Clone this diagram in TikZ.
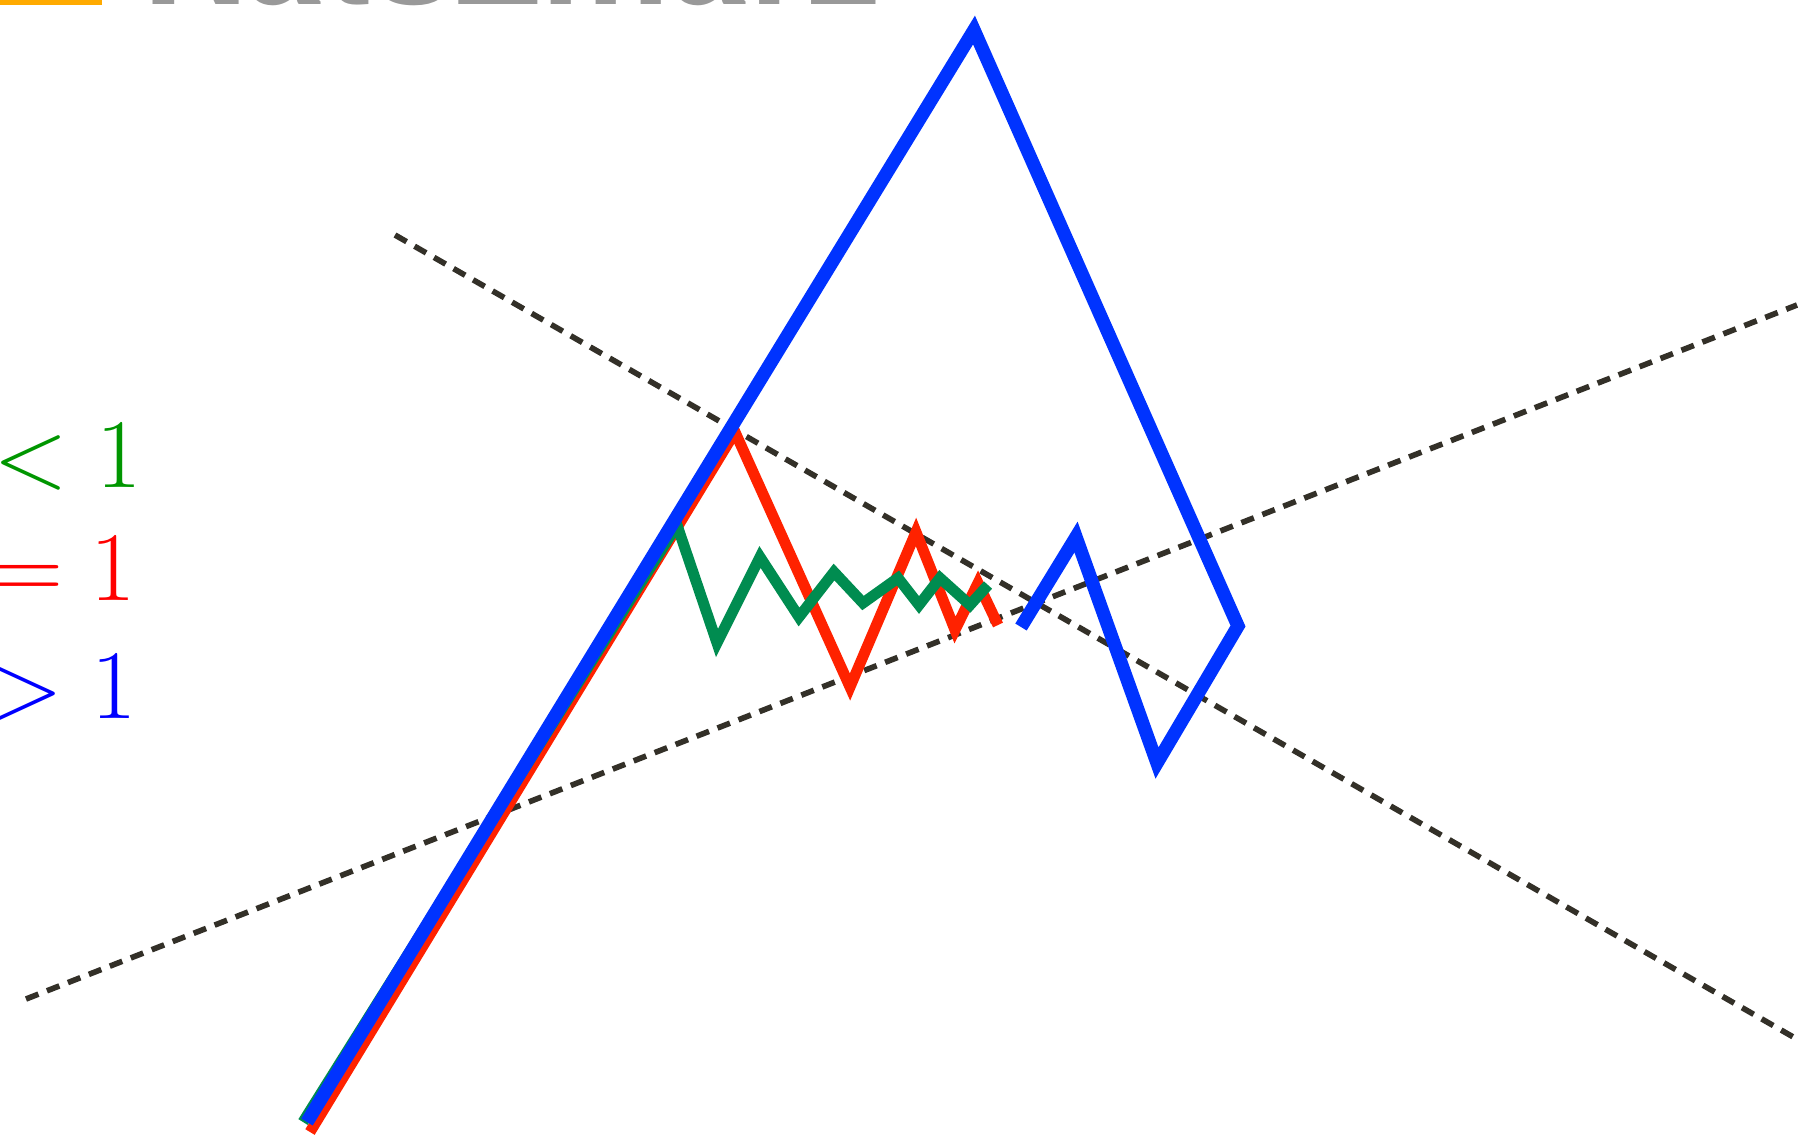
\documentclass[tikz,border=0pt]{standalone}
\usepackage{fix-cm}
\usepackage{fontspec}
\newfontfamily\headfont{TeX Gyre Heros}
\definecolor{wavegreen}{RGB}{0,140,80}
\definecolor{wavered}{RGB}{255,34,0}
\definecolor{waveblue}{RGB}{0,51,255}
\definecolor{boundgray}{RGB}{51,48,40}
\definecolor{legorange}{RGB}{255,170,0}
\definecolor{headgray}{RGB}{153,153,153}
\definecolor{labgreen}{RGB}{0,150,0}
\definecolor{labred}{RGB}{255,0,0}
\definecolor{labblue}{RGB}{0,0,255}
\tikzset{
    wave diagram/.style = {x=0.01cm, y=-0.01cm},
    wave/.style         = {line width=3.1pt, line join=miter},
    bound/.style        = {line width=1.6pt, boundgray,
                           dash pattern=on 3.8pt off 2.6pt},
    ratio/.style        = {inner sep=0pt, anchor=base east,
                           font=\fontsize{28}{30}\selectfont},
    head/.style         = {inner sep=0pt, anchor=base west, text=headgray,
                           font=\headfont\bfseries\fontsize{41}{44}\selectfont}
}

\begin{document}
\begin{tikzpicture}[wave diagram]
\clip (0,0) rectangle (1818,1147);

% Legend remains at the top edge
\fill[legorange] (0,-20) rectangle (102,5);
\node[head] (title) at (141,4.5) {RatsZmarz};

% Ratio labels on the left edge
\foreach \rel/\col/\xx/\yy/\nm in {<1/labgreen/142/487/qless,
                                    =1/labred/137/600/qequal,
                                    >1/labblue/137/718/qgreater}
    \node[ratio, text=\col] (\nm) at (\xx,\yy) {$\rel$};

% Converging bounds
\draw[bound] (395,235) -- (1795,1038);
\draw[bound] (26,999) -- (1797,305);

% Waves
\draw[wave, wavered] (310,1132) -- (735,432) -- (850,687) -- (916,532)
    -- (955,630) -- (978,583) -- (998,625);
\draw[wave, wavegreen] (303,1122) -- (677,525) -- (717,643) -- (760,557)
    -- (799,617) -- (834,572) -- (863,603) -- (898,578) -- (919,605)
    -- (940,578) -- (970,605) -- (988,585);
\draw[wave, waveblue, line width=3.8pt] (307,1122) -- (974,30) -- (1238,626)
    -- (1157,763) -- (1076,537) -- (1021,627);

\end{tikzpicture}
\end{document}
